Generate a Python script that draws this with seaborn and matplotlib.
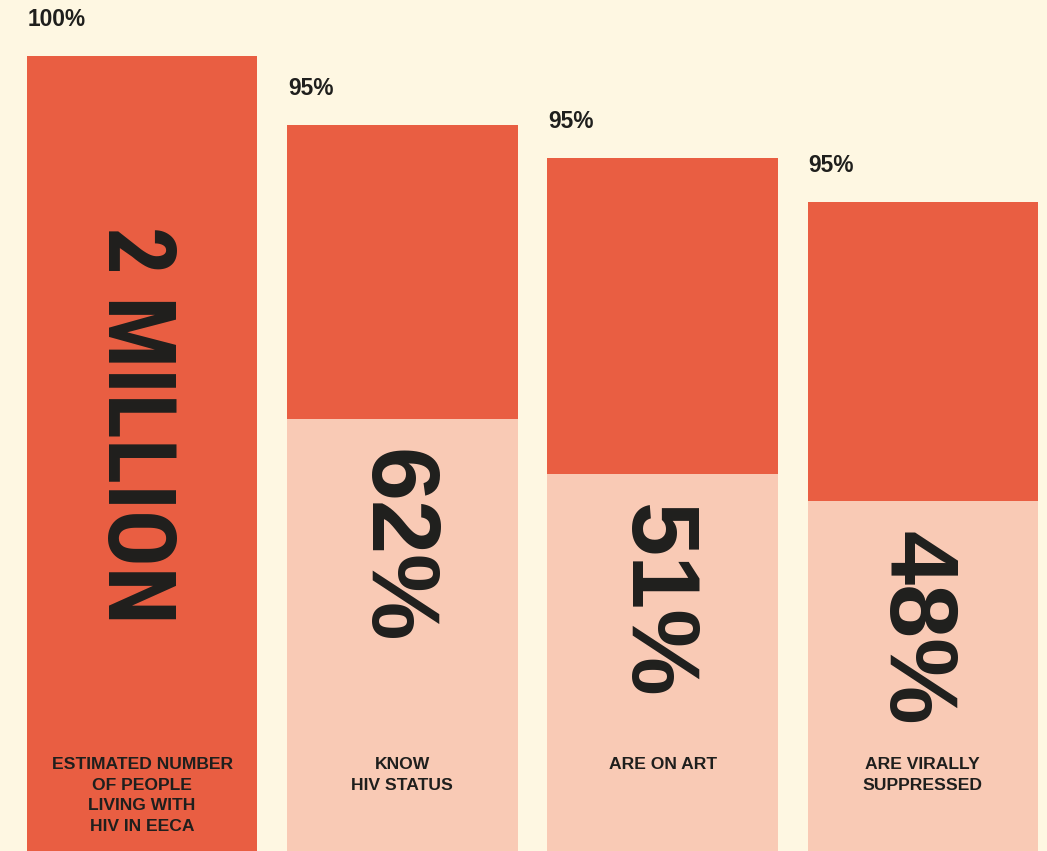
import matplotlib
matplotlib.use('Agg')
import matplotlib.pyplot as plt
from matplotlib import font_manager
import seaborn as sns
import pandas as pd

# Datos de la cascada (alturas, en % de la barra total)
etapas = ['ESTIMATED NUMBER\nOF PEOPLE\nLIVING WITH\nHIV IN EECA',
          'KNOW\nHIV STATUS',
          'ARE ON ART',
          'ARE VIRALLY\nSUPPRESSED']
meta_altura = [100, 91.3, 87.2, 81.6]
meta_texto = ['100%', '95%', '95%', '95%']
logro_altura = [54.3, 47.4, 44.0]
logro_texto = ['62%', '51%', '48%']
total_texto = '2 MILLION'

# Colores
fondo = '#FEF7E2'
rojo = '#E95E42'
salmon = '#F9CAB5'
texto = '#1F1F1D'

sns.set_style('white')
plt.rcParams['font.family'] = ['Liberation Sans', 'DejaVu Sans']

# Buscamos alguna fuente angosta instalada para "2 MILLION"
fuentes = font_manager.fontManager.ttflist
nombres = {f.name for f in fuentes}
fuente_angosta = {'family': ['Liberation Sans', 'DejaVu Sans']}
for cand in ['Liberation Sans Narrow', 'Roboto Condensed', 'Open Sans Condensed',
             'DejaVu Sans Condensed', 'Noto Sans Condensed']:
    if cand in nombres:
        fuente_angosta = {'family': [cand, 'DejaVu Sans']}
        break
else:
    angostas = [f for f in fuentes if f.stretch in ('condensed', 'semi-condensed', 'extra-condensed')
                and f.weight in (600, 700, 800, 'bold')]
    if angostas:
        fuente_angosta = {'family': [angostas[0].name, 'DejaVu Sans'], 'stretch': angostas[0].stretch}

df_meta = pd.DataFrame({'etapa': etapas, 'altura': meta_altura})
df_logro = pd.DataFrame({'etapa': etapas[1:], 'altura': logro_altura})

fig = plt.figure(figsize=(10.47, 8.51), dpi=100, facecolor=fondo)
ax = fig.add_axes([0, 0, 1, 1])
ax.set_facecolor(fondo)

ancho = 0.885
sns.barplot(data=df_meta, x='etapa', y='altura', order=etapas, color=rojo,
            saturation=1, width=ancho, linewidth=0, ax=ax)
sns.barplot(data=df_logro, x='etapa', y='altura', order=etapas, color=salmon,
            saturation=1, width=ancho, linewidth=0, ax=ax)

# Porcentajes meta arriba de cada barra
for i, (h, t) in enumerate(zip(meta_altura, meta_texto)):
    ax.annotate(t, xy=(i - ancho / 2, h), xytext=(1, 30), textcoords='offset pixels',
                ha='left', va='baseline', fontsize=16.4, fontweight='bold', color=texto)

# Texto grande vertical
ax.annotate(total_texto, xy=(0, meta_altura[0]), xytext=(-8, -170), textcoords='offset pixels',
            rotation=270, ha='center', va='top', fontsize=68, fontweight='bold',
            color=texto, **fuente_angosta)
for i, (h, t) in enumerate(zip(logro_altura, logro_texto)):
    ax.annotate(t, xy=(i + 1, h), xytext=(-9, -30), textcoords='offset pixels',
                rotation=270, ha='center', va='top', fontsize=70, fontweight='bold',
                color=texto)

# Etiquetas de abajo
for i, etapa in enumerate(etapas):
    ax.text(i, 11.8, etapa, ha='center', va='top', multialignment='center',
            fontsize=12.6, fontweight='bold', linespacing=1.47, color=texto)

ax.set_xlim(-0.546, 3.477)
ax.set_ylim(0, 107.04)
ax.axis('off')

fig.savefig('out.png', dpi=100, facecolor=fondo)
